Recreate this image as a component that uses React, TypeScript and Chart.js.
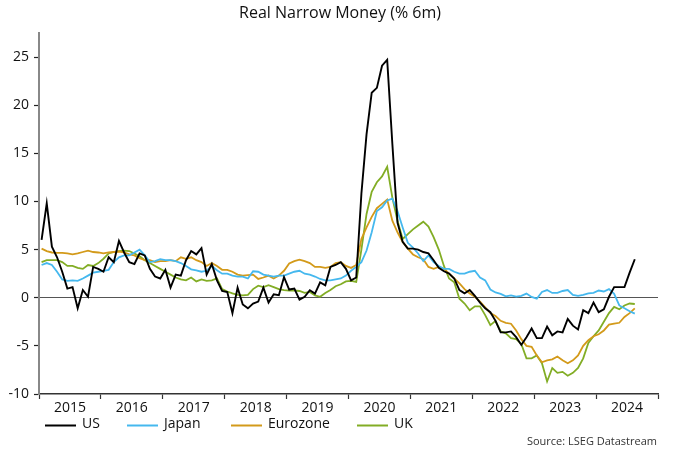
import React, { useEffect, useRef } from 'react';
import { Chart, registerables } from 'chart.js';

Chart.register(...registerables);

// ---- data (monthly, Jan 2015 .. Aug 2024, % 6m) ----
const yearLabels = ['2015', '2016', '2017', '2018', '2019', '2020', '2021', '2022', '2023', '2024'];
const seriesNames = ['US', 'Japan', 'Eurozone', 'UK'];
const seriesColors = ['#000000', '#45b8ee', '#d39a1a', '#82ad25'];

const usValues = [
  6.0, 9.8, 5.3, 4.2, 2.7, 0.95, 1.1, -1.1, 0.8, 0.1,
  3.2, 3.0, 2.7, 4.2, 3.7, 5.9, 4.7, 3.7, 3.5, 4.6,
  4.4, 3.0, 2.2, 2.0, 2.9, 1.05, 2.4, 2.3, 3.9, 4.85,
  4.5, 5.15, 2.4, 3.5, 1.8, 0.7, 0.6, -1.6, 1.05, -0.7,
  -1.1, -0.6, -0.4, 1.05, -0.5, 0.36, 0.26, 2.15, 0.85, 0.95,
  -0.2, 0.1, 0.78, 0.43, 1.6, 1.3, 3.2, 3.4, 3.7, 3.0,
  1.8, 2.1, 10.8, 17.0, 21.3, 21.8, 24.1, 24.7, 16.0, 7.8,
  5.8, 5.1, 5.1, 5.0, 4.75, 4.6, 3.9, 3.1, 2.75, 2.5,
  2.0, 0.8, 0.45, 0.8, 0.2, -0.5, -1.1, -1.5, -2.4, -3.6,
  -3.6, -3.5, -4.1, -4.9, -4.1, -3.2, -4.2, -4.2, -3.0, -3.9,
  -3.5, -3.6, -2.2, -2.9, -3.3, -1.3, -1.6, -0.5, -1.5, -1.2,
  0.1, 1.1, 1.1, 1.1, 2.6, 4.0,
];

const japanValues = [
  3.4, 3.6, 3.4, 2.7, 1.9, 1.75, 1.8, 1.75, 2.0, 2.3,
  2.6, 2.7, 2.8, 2.9, 3.7, 4.2, 4.4, 4.4, 4.7, 5.0,
  4.4, 3.7, 3.8, 4.0, 3.9, 3.9, 3.8, 3.6, 3.3, 2.95,
  2.85, 2.7, 2.8, 3.3, 2.85, 2.5, 2.5, 2.3, 2.2, 2.2,
  2.0, 2.75, 2.7, 2.4, 2.3, 2.2, 2.3, 2.3, 2.5, 2.7,
  2.8, 2.5, 2.4, 2.2, 1.95, 1.8, 1.8, 1.9, 2.0, 2.3,
  2.8, 3.2, 3.7, 4.9, 6.8, 9.0, 9.4, 10.1, 10.3, 9.0,
  7.3, 5.7, 5.2, 4.6, 3.8, 4.4, 3.7, 3.3, 3.0, 3.0,
  2.7, 2.5, 2.5, 2.7, 2.8, 2.1, 1.8, 0.85, 0.55, 0.4,
  0.15, 0.25, 0.12, 0.2, 0.43, 0.08, -0.1, 0.6, 0.8, 0.5,
  0.5, 0.7, 0.8, 0.3, 0.2, 0.3, 0.45, 0.5, 0.75, 0.65,
  0.9, 0.4, -0.8, -1.1, -1.4, -1.65,
];

const eurozoneValues = [
  5.1, 4.85, 4.7, 4.65, 4.65, 4.6, 4.5, 4.6, 4.75, 4.9,
  4.75, 4.7, 4.6, 4.7, 4.75, 4.8, 4.7, 4.5, 4.4, 4.1,
  3.9, 3.9, 3.7, 3.8, 3.8, 3.9, 3.8, 4.2, 4.05, 4.2,
  3.9, 3.7, 3.3, 3.6, 3.3, 2.9, 2.9, 2.7, 2.4, 2.3,
  2.35, 2.4, 1.95, 2.1, 2.3, 2.0, 2.3, 2.8, 3.55, 3.8,
  3.95, 3.8, 3.6, 3.2, 3.2, 3.1, 3.2, 3.6, 3.7, 3.3,
  3.1, 3.4, 6.1, 7.3, 8.4, 9.3, 9.75, 10.2, 8.0, 6.8,
  5.8, 5.1, 4.5, 4.2, 4.0, 3.2, 3.0, 3.2, 3.0, 2.5,
  2.0, 1.5, 0.9, 0.45, 0.1, -0.4, -1.0, -1.6, -1.9, -2.4,
  -2.6, -2.7, -3.4, -4.3, -5.0, -5.1, -6.0, -6.7, -6.5, -6.4,
  -6.1, -6.5, -6.8, -6.5, -6.0, -5.0, -4.4, -4.0, -3.8, -3.4,
  -2.8, -2.7, -2.6, -2.0, -1.6, -1.1,
];

const ukValues = [
  3.7, 3.9, 3.9, 3.9, 3.7, 3.3, 3.3, 3.1, 3.0, 3.4,
  3.3, 3.6, 4.05, 4.6, 4.75, 4.85, 4.9, 4.85, 4.6, 4.3,
  3.9, 3.6, 3.3, 3.0, 2.7, 2.4, 2.1, 1.9, 1.8, 2.1,
  1.7, 1.9, 1.75, 1.8, 2.0, 0.9, 0.65, 0.45, 0.3, 0.25,
  0.3, 0.9, 1.25, 1.1, 1.3, 1.1, 0.9, 0.8, 0.75, 0.75,
  0.7, 0.5, 0.6, 0.25, 0.1, 0.5, 0.8, 1.2, 1.4, 1.7,
  1.75, 1.65, 5.0, 8.7, 11.0, 12.0, 12.6, 13.6, 10.4, 8.0,
  6.1, 6.6, 7.1, 7.5, 7.9, 7.4, 6.3, 5.0, 3.3, 2.0,
  1.6, -0.1, -0.6, -1.3, -0.9, -0.9, -1.8, -2.85, -2.4, -3.5,
  -3.7, -4.2, -4.3, -4.8, -6.3, -6.3, -6.0, -6.8, -8.7, -7.3,
  -7.8, -7.7, -8.1, -7.8, -7.3, -6.3, -4.7, -4.0, -3.4, -2.5,
  -1.6, -0.95, -1.2, -0.8, -0.6, -0.65,
];

const allSeries = [usValues, japanValues, eurozoneValues, ukValues];
const yTickValues = [-10, -5, 0, 5, 10, 15, 20, 25];

const TITLE = 'Real Narrow Money (% 6m)';
const SOURCE = 'Source: LSEG Datastream';
const FONT = '"Open Sans", "DejaVu Sans", sans-serif';

// months since Jan 2015, points placed mid-month
const toPoints = (vals: number[]) => vals.map((v, i) => ({ x: i + 0.5, y: v }));

const overlayPlugin = {
  id: 'overlay',
  afterDraw(chart: any) {
    const ctx = chart.ctx as CanvasRenderingContext2D;
    ctx.save();
    // title
    ctx.fillStyle = '#111';
    ctx.font = `16px ${FONT}`;
    ctx.textAlign = 'center';
    ctx.textBaseline = 'middle';
    ctx.fillText(TITLE, 340, 13);

    // legend
    const starts = [45, 127, 231, 357];
    ctx.font = `14px ${FONT}`;
    ctx.textAlign = 'left';
    seriesNames.forEach((name, k) => {
      const x = starts[k];
      ctx.strokeStyle = seriesColors[k];
      ctx.lineWidth = 2;
      ctx.beginPath();
      ctx.moveTo(x, 425.5);
      ctx.lineTo(x + 31, 425.5);
      ctx.stroke();
      ctx.fillStyle = '#111';
      ctx.fillText(name, x + 37, 424);
    });

    // source
    ctx.font = `11px ${FONT}`;
    ctx.textAlign = 'right';
    ctx.fillStyle = '#333';
    ctx.fillText(SOURCE, 657, 442);
    ctx.restore();
  },
};

export default function App() {
  const ref = useRef<HTMLCanvasElement | null>(null);

  useEffect(() => {
    document.body.style.margin = '0';
    const canvas = ref.current;
    if (!canvas) return;

    const datasets = seriesNames.map((name, k) => ({
      label: name,
      data: toPoints(allSeries[k]),
      borderColor: seriesColors[k],
      backgroundColor: seriesColors[k],
      borderWidth: k === 0 ? 1.9 : 1.8,
      pointRadius: 0,
      tension: 0,
      fill: false,
      order: k,
    }));

    const chart = new Chart(canvas, {
      type: 'line',
      data: { datasets },
      options: {
        responsive: false,
        animation: false,
        events: [],
        layout: { padding: { top: 33, right: 22, left: 0, bottom: 0 } },
        plugins: {
          legend: { display: false },
          title: { display: false },
          tooltip: { enabled: false },
        },
        scales: {
          x: {
            type: 'linear',
            min: 0,
            max: yearLabels.length * 12,
            afterBuildTicks: (s: any) => {
              const t: any[] = [];
              for (let k = 0; k <= yearLabels.length; k++) {
                t.push({ value: k * 12 });
                if (k < yearLabels.length) t.push({ value: k * 12 + 6 });
              }
              s.ticks = t;
            },
            afterFit: (s: any) => {
              s.height = 59;
            },
            grid: {
              drawOnChartArea: false,
              drawTicks: true,
              tickLength: 5,
              tickWidth: 1.2,
              tickColor: (c: any) => (c.tick && c.tick.value % 12 === 0 ? '#333' : 'rgba(0,0,0,0)'),
            },
            border: { color: '#333', width: 1.5 },
            ticks: {
              autoSkip: false,
              maxRotation: 0,
              padding: 1,
              color: '#111',
              font: { family: FONT, size: 14 },
              callback: (v: any) => (v % 12 === 6 ? yearLabels[(v - 6) / 12] : ''),
            },
          },
          y: {
            min: -10,
            max: 27.5,
            afterBuildTicks: (s: any) => {
              s.ticks = yTickValues.map((v) => ({ value: v }));
            },
            afterFit: (s: any) => {
              s.width = 39;
            },
            grid: {
              drawTicks: true,
              tickLength: 5,
              tickColor: '#222',
              tickWidth: 1.2,
              lineWidth: 1,
              color: (c: any) => (c.tick && c.tick.value === 0 ? '#555' : 'rgba(0,0,0,0)'),
            },
            border: { color: '#888', width: 2 },
            ticks: {
              padding: 5,
              color: '#111',
              font: { family: FONT, size: 14 },
            },
          },
        },
      },
      plugins: [overlayPlugin],
    });

    return () => chart.destroy();
  }, []);

  return (
    <div style={{ width: 680, height: 453, position: 'relative', background: '#fff' }}>
      <canvas ref={ref} width={680} height={453} style={{ width: 680, height: 453, display: 'block' }} />
    </div>
  );
}
